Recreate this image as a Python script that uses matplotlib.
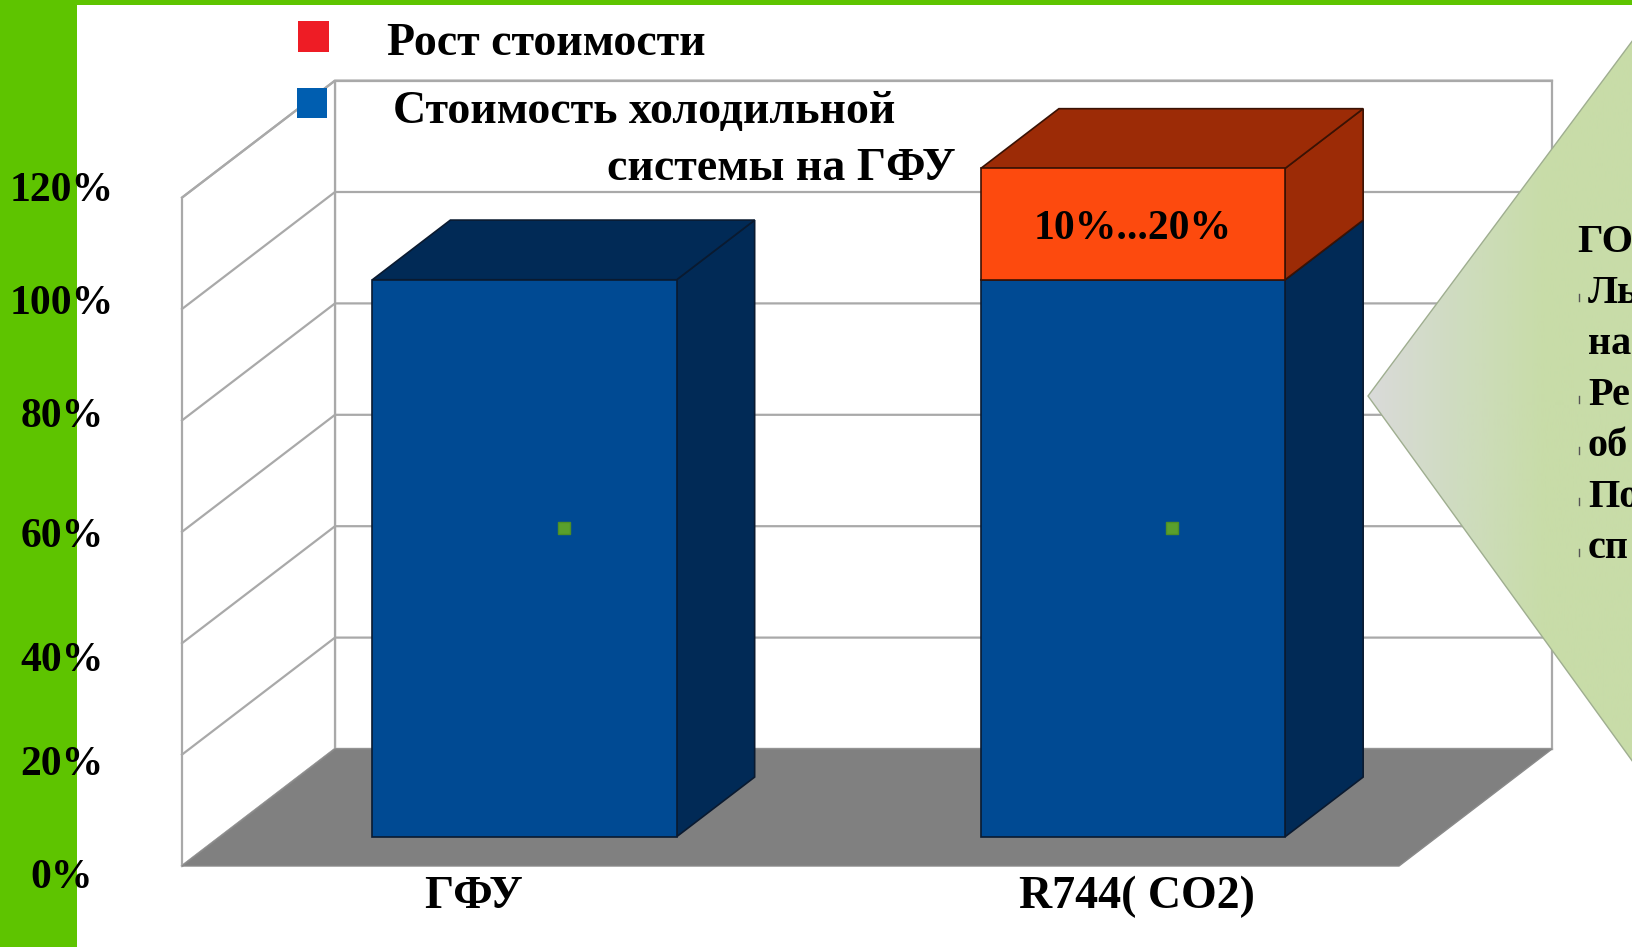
import numpy as np
import matplotlib
matplotlib.use("Agg")
import matplotlib.pyplot as plt
from matplotlib.patches import Polygon, Rectangle
from matplotlib.colors import LinearSegmentedColormap

plt.rcParams['font.family'] = ['Liberation Serif', 'DejaVu Serif']

# data
categories = ['ГФУ', 'R744( CO2)']
base_cost = [100, 100]      # стоимость холодильной системы на ГФУ, %
cost_growth = [0, 20]       # рост стоимости, %
growth_labels = ['', '10%...20%']
series_names = ['Рост стоимости', 'Стоимость холодильной', 'системы на ГФУ']
y_ticks = [0, 20, 40, 60, 80, 100, 120]
y_tick_labels = ['0%', '20%', '40%', '60%', '80%', '100%', '120%']
note_lines = ['ГО', 'Ль', 'на', 'Ре', 'об', 'По', 'сп']
note_bullets = [False, True, False, True, True, True, True]

# layout (pixels of the 1633x947 picture)
W, H = 1633, 947
PX_CAT = 608.5          # px per category
PX_PCT = 5.57           # px per percent
X0_PX = 486.25          # category 0 on the front plane
Y0_PX = 866             # 0 % on the front plane (from top)
DEPTH_PX = (153, 117)   # full depth of the box
DX = DEPTH_PX[0] / PX_CAT
DY = DEPTH_PX[1] / PX_PCT
D0, D1 = 0.25, 0.76     # bar depth range
HALF = 0.25             # half bar width
WALL_L, WALL_R, WALL_TOP = -0.5, 1.5, 120

ylabel_base = [888, 775, 671, 547, 427, 314, 201]
cat_label_x = [474, 1137]
note_base = [252, 303, 354, 405, 456, 507, 558]

GREEN = '#5ec400'
GRID = '#a9a9a9'


def P(x, y, d):
    return (x + d * DX, y + d * DY)


fig = plt.figure(figsize=(W / 100, H / 100), dpi=100)
fig.patch.set_facecolor('white')

ax = fig.add_axes([0, 0, 1, 1], zorder=1)
ax.set_xlim(-X0_PX / PX_CAT, (W - X0_PX) / PX_CAT)
ax.set_ylim(-(H - Y0_PX) / PX_PCT, Y0_PX / PX_PCT)
ax.axis('off')

# walls
back = [P(WALL_L, 0, 1), P(WALL_R, 0, 1), P(WALL_R, WALL_TOP, 1), P(WALL_L, WALL_TOP, 1)]
side = [P(WALL_L, 0, 0), P(WALL_L, 0, 1), P(WALL_L, WALL_TOP, 1), P(WALL_L, WALL_TOP, 0)]
ax.add_patch(Polygon(back, closed=True, facecolor='white', edgecolor=GRID, lw=1.6, zorder=1))
ax.add_patch(Polygon(side, closed=True, facecolor='white', edgecolor=GRID, lw=1.6, zorder=1))
for v in y_ticks:
    a, b, c = P(WALL_L, v, 0), P(WALL_L, v, 1), P(WALL_R, v, 1)
    ax.plot([a[0], b[0], c[0]], [a[1], b[1], c[1]], color=GRID, lw=1.6, zorder=2)

# floor
floor = [P(WALL_L, 0, 0), P(WALL_R, 0, 0), P(WALL_R, 0, 1), P(WALL_L, 0, 1)]
ax.add_patch(Polygon(floor, closed=True, facecolor='#808080', edgecolor='#8a8a8a', lw=1, zorder=3))

# bars
styles = [('#004a93', '#012a56', '#0a1a30'), ('#fd4a0e', '#9c2b06', '#3a1204')]
for i in range(len(categories)):
    bottom = 0
    for val, (fc, dark, ec) in zip([base_cost[i], cost_growth[i]], styles):
        if val <= 0:
            continue
        top = bottom + val
        xl, xr = i - HALF, i + HALF
        side_f = [P(xr, bottom, D0), P(xr, bottom, D1), P(xr, top, D1), P(xr, top, D0)]
        top_f = [P(xl, top, D0), P(xr, top, D0), P(xr, top, D1), P(xl, top, D1)]
        front = [P(xl, bottom, D0), P(xr, bottom, D0), P(xr, top, D0), P(xl, top, D0)]
        for pts, col in [(side_f, dark), (top_f, dark), (front, fc)]:
            ax.add_patch(Polygon(pts, closed=True, facecolor=col, edgecolor=ec,
                                 lw=1.2, joinstyle='miter', zorder=5))
        bottom = top
    # small marker in the middle of the blue block
    mx, my = P(i, base_cost[i] / 2, (D0 + D1) / 2)
    ax.plot(mx, my, marker='s', ms=9, color='#5aa02c', mec='#4e8f25', zorder=6)
    if growth_labels[i]:
        lx, ly = P(i, base_cost[i] + cost_growth[i] / 2, D0)
        ax.text(lx, ly, growth_labels[i], ha='center', va='center_baseline',
                fontsize=30, fontweight='bold', color='black', zorder=7)

# overlay in pixel coordinates
ov = fig.add_axes([0, 0, 1, 1], zorder=3)
ov.set_xlim(0, W)
ov.set_ylim(H, 0)
ov.axis('off')
ov.patch.set_visible(False)

ov.add_patch(Rectangle((0, 0), 77, H, facecolor=GREEN, edgecolor='none', zorder=1))
ov.add_patch(Rectangle((0, 0), W, 5, facecolor=GREEN, edgecolor='none', zorder=1))

for lab, yb in zip(y_tick_labels, ylabel_base):
    ov.text(62, yb, lab, ha='center', va='baseline', fontsize=30,
            fontweight='bold', color='black', zorder=5)

for lab, x in zip(categories, cat_label_x):
    ov.text(x, 908, lab, ha='center', va='baseline', fontsize=33,
            fontweight='bold', color='black', zorder=5)

# legend
ov.add_patch(Rectangle((298, 21), 31, 31, facecolor='#ee1c25', edgecolor='none', zorder=4))
ov.add_patch(Rectangle((297, 88), 30, 30, facecolor='#005eb0', edgecolor='none', zorder=4))
ov.text(387, 55, series_names[0], ha='left', va='baseline', fontsize=33,
        fontweight='bold', zorder=5)
ov.text(393, 123, series_names[1], ha='left', va='baseline', fontsize=33,
        fontweight='bold', zorder=5)
ov.text(956, 180, series_names[2], ha='right', va='baseline', fontsize=33,
        fontweight='bold', zorder=5)

# callout
tri = [(1368, 396), (1633, 40), (1633, 762)]
cmap = LinearSegmentedColormap.from_list('cg', ['#dadada', '#cfdcc0', '#c8dca8', '#c8dca8'])
grad = np.linspace(0, 1, 256).reshape(1, -1)
im = ov.imshow(grad, cmap=cmap, extent=(1368, 1633, 762, 40), aspect='auto', zorder=2)
clip = Polygon(tri, closed=True, facecolor='none', edgecolor='#9fae90', lw=1.0, zorder=3)
ov.add_patch(clip)
im.set_clip_path(clip)

for txt, yb, bullet in zip(note_lines, note_base, note_bullets):
    x = 1588 if txt != note_lines[0] else 1577
    ov.text(x, yb, txt, ha='left', va='baseline', fontsize=29,
            fontweight='bold', color='black', zorder=5, clip_on=True)
    if bullet:
        ov.plot([1579, 1579], [yb - 9, yb - 2], color='#555555', lw=1, zorder=5)

fig.savefig('out.png', dpi=100)
